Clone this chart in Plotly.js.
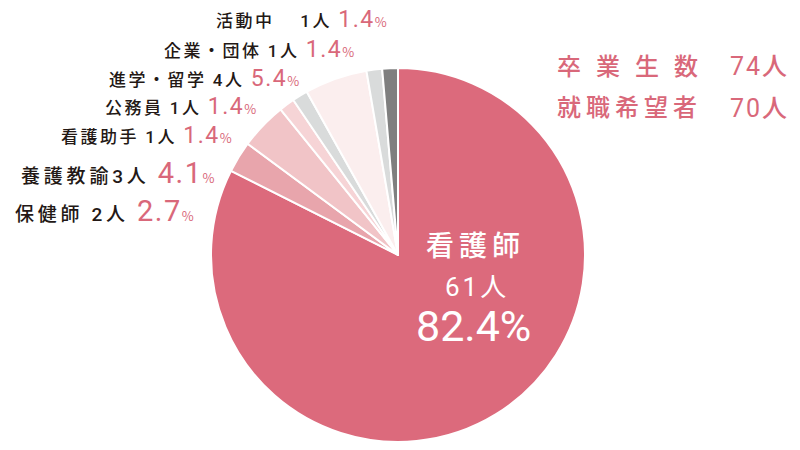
<!DOCTYPE html>
<html><head><meta charset="utf-8">
<script src="https://cdn.plot.ly/plotly-3.0.1.min.js"></script>
<style>html,body{margin:0;padding:0;background:#fff;}#chart{width:800px;height:450px;}</style>
</head><body><div id="chart"></div>
<script>
var categories = ["看護師","保健師","養護教諭","看護助手","公務員","進学・留学","企業・団体","活動中"];
var counts = [61, 2, 3, 1, 1, 4, 1, 1];
var percents = ["82.4","2.7","4.1","1.4","1.4","5.4","1.4","1.4"];
var colors = ["#dc6a7c","#e8a5ac","#f1c4c7","#f6d4d6","#d9dbdb","#fbeeee","#d9dbdb","#7f7f7f"];
var totalGraduates = 74;
var jobSeekers = 70;
var summaryLabels = ["卒業生数","就職希望者"];

var PINK = "#d9687a";
var FONT = "Noto Sans CJK JP";
var NUMFONT = "Roboto";

var trace = {
  type: "pie",
  labels: categories,
  values: counts,
  sort: false,
  direction: "clockwise",
  rotation: 0,
  textinfo: "none",
  hoverinfo: "label+value+percent",
  marker: {colors: colors, line: {color: "#ffffff", width: 2}},
  domain: {x: [0.26375, 0.73125], y: [0.0178, 0.849]},
  showlegend: false
};

// left-side labels
var labelSpec = [
  {i: 7, y: 20, x: 389, gap: "　 ", fs: 17, ls: 2.5, num: 23},
  {i: 6, y: 49, x: 356, gap: " ", fs: 17, ls: 2.5, num: 23},
  {i: 5, y: 78, x: 301, gap: " ", fs: 17, ls: 2.5, num: 23},
  {i: 4, y: 107, x: 258, gap: " ", fs: 17, ls: 2.5, num: 23},
  {i: 3, y: 135, x: 234, gap: " ", fs: 17, ls: 2.5, num: 23},
  {i: 2, y: 173, x: 216, gap: "", fs: 19, ls: 3.8, num: 29},
  {i: 1, y: 211, x: 196, gap: " ", fs: 19, ls: 3.8, num: 29}
];

var annotations = labelSpec.map(function(s){
  var txt = "<span style='letter-spacing:" + s.ls + "px'>" + categories[s.i] + s.gap + "</span>" +
    "<span style='letter-spacing:" + s.ls + "px;font-family:" + NUMFONT + "'>" + counts[s.i] + "</span>" +
    "<span style='letter-spacing:" + s.ls + "px'>人 </span>" +
    "<span style='color:" + PINK + ";font-size:" + s.num + "px;font-family:" + NUMFONT + ";font-weight:400;letter-spacing:1.5px'>" + percents[s.i] + "</span>" +
    "<span style='color:" + PINK + ";font-size:13px;font-weight:400'>%</span>";
  return {
    xref: "paper", yref: "paper",
    x: s.x / 800, y: 1 - s.y / 450,
    xanchor: "right", yanchor: "middle",
    text: txt, showarrow: false,
    font: {family: FONT, size: s.fs, color: "#231815", weight: 500}
  };
});

// big slice text
annotations.push({xref:"paper",yref:"paper",x:475/800,y:1-244/450,xanchor:"center",yanchor:"middle",
  text: "<span style='letter-spacing:5px'>" + categories[0] + "</span>", showarrow:false,
  font:{family:FONT,size:28,color:"#ffffff",weight:500}});
annotations.push({xref:"paper",yref:"paper",x:475/800,y:1-284/450,xanchor:"center",yanchor:"middle",
  text: "<span style='font-family:" + NUMFONT + ";letter-spacing:3px;font-weight:400'>" + counts[0] + "</span><span>人</span>",
  showarrow:false, font:{family:FONT,size:26,color:"#ffffff",weight:400}});
annotations.push({xref:"paper",yref:"paper",x:473/800,y:1-326/450,xanchor:"center",yanchor:"middle",
  text: percents[0] + "%", showarrow:false, font:{family:NUMFONT,size:43,color:"#ffffff",weight:400}});

// summary
annotations.push({xref:"paper",yref:"paper",x:555/800,y:1-64/450,xanchor:"left",yanchor:"middle",
  text: "<span style='letter-spacing:15px'>" + summaryLabels[0] + "</span>", showarrow:false,
  font:{family:FONT,size:24,color:PINK,weight:500}});
annotations.push({xref:"paper",yref:"paper",x:555/800,y:1-106/450,xanchor:"left",yanchor:"middle",
  text: "<span style='letter-spacing:5px'>" + summaryLabels[1] + "</span>", showarrow:false,
  font:{family:FONT,size:24,color:PINK,weight:500}});
annotations.push({xref:"paper",yref:"paper",x:789/800,y:1-64/450,xanchor:"right",yanchor:"middle",
  text: "<span style='font-family:" + NUMFONT + ";letter-spacing:2px;font-weight:400'>" + totalGraduates + "</span>人", showarrow:false,
  font:{family:FONT,size:25,color:PINK,weight:500}});
annotations.push({xref:"paper",yref:"paper",x:789/800,y:1-106/450,xanchor:"right",yanchor:"middle",
  text: "<span style='font-family:" + NUMFONT + ";letter-spacing:2px;font-weight:400'>" + jobSeekers + "</span>人", showarrow:false,
  font:{family:FONT,size:25,color:PINK,weight:500}});

var layout = {
  width: 800, height: 450,
  margin: {l:0, r:0, t:0, b:0},
  paper_bgcolor: "#ffffff",
  annotations: annotations,
  font: {family: FONT}
};

Plotly.newPlot("chart", [trace], layout, {displayModeBar:false, staticPlot:true});
</script>
</body></html>
